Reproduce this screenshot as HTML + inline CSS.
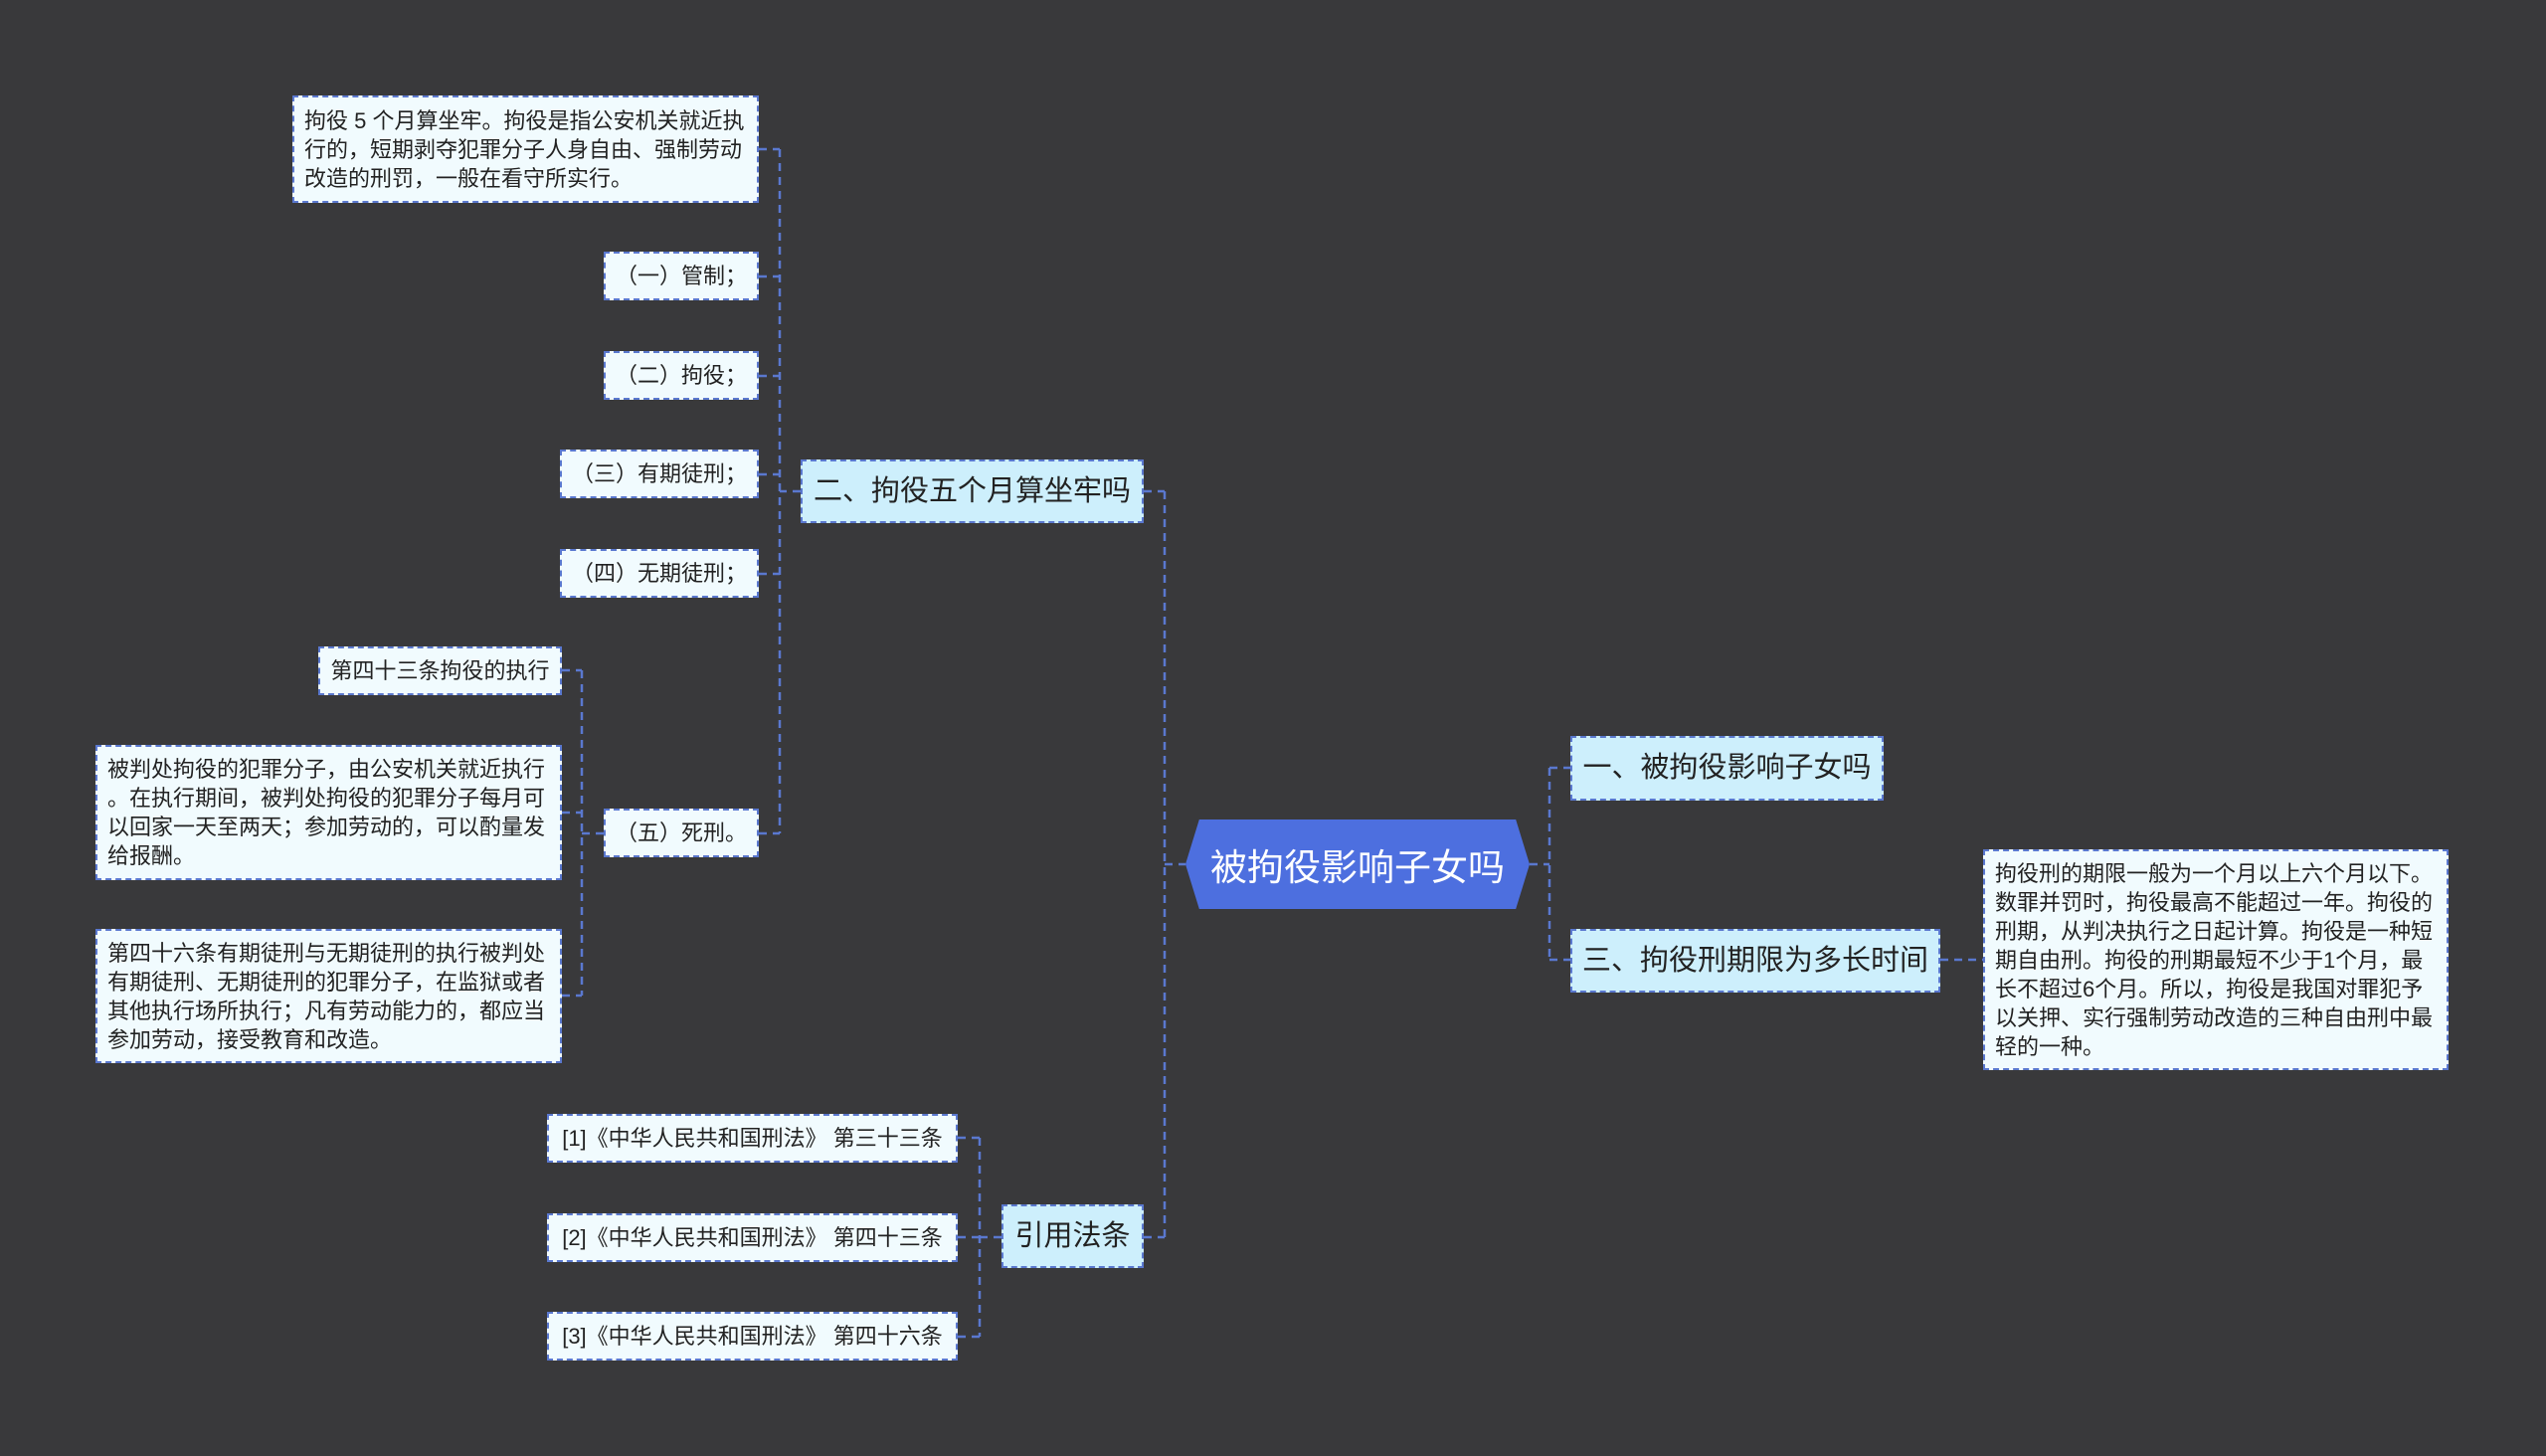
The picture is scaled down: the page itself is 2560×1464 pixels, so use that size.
<!DOCTYPE html>
<html><head><meta charset="utf-8"><style>
html,body{margin:0;padding:0}
body{width:2560px;height:1464px;background:#39393b;position:relative;overflow:hidden;font-family:"Liberation Sans","Noto Sans CJK SC",sans-serif}
.b{position:absolute;box-sizing:border-box;border:2px dashed #5a78cf;background:#f1fbfe;color:#222;font-size:22px;line-height:29px;display:flex;align-items:center;justify-content:center;white-space:nowrap}
.t{justify-content:flex-start;padding:0 10px;text-align:left;white-space:normal}
.l1{background:#cdeffc;font-size:29px;color:#222}
svg{position:absolute;left:0;top:0}
.c{position:absolute;left:1192px;top:824px;width:346px;height:90px;background:#4d6fdf;color:#fff;font-size:37px;display:flex;align-items:center;justify-content:center;clip-path:polygon(4% 0,96% 0,100% 50%,96% 100%,4% 100%,0 50%)}
</style></head><body>
<svg width="2560" height="1464"><g fill="none" stroke="#5a78cf" stroke-width="2.5" stroke-dasharray="8,6">
<path d="M805 494H784M784 150V838M763 150H784M763 278H784M763 378H784M763 477H784M763 577H784M763 838H784"/>
<path d="M1150 494H1171M1171 494V1244M1150 1244H1171M1171 869H1192"/>
<path d="M1538 869H1558M1558 772V965M1558 772H1579M1558 965H1579M1951 965H1994"/>
<path d="M607 838H585M585 674V1001M565 674H585M565 817H585M565 1001H585"/>
<path d="M1007 1244H985M985 1144V1344M963 1144H985M963 1244H985M963 1344H985"/>
</g></svg>
<div class="b t" style="left:294px;top:96px;width:469px;height:108px">拘役 5 个月算坐牢。拘役是指公安机关就近执<br>行的，短期剥夺犯罪分子人身自由、强制劳动<br>改造的刑罚，一般在看守所实行。</div>
<div class="b" style="left:607px;top:253px;width:156px;height:49px">（一）管制；</div>
<div class="b" style="left:607px;top:353px;width:156px;height:49px">（二）拘役；</div>
<div class="b" style="left:563px;top:452px;width:200px;height:49px">（三）有期徒刑；</div>
<div class="b" style="left:563px;top:552px;width:200px;height:49px">（四）无期徒刑；</div>
<div class="b l1" style="left:805px;top:462px;width:345px;height:64px">二、拘役五个月算坐牢吗</div>
<div class="b" style="left:320px;top:650px;width:245px;height:49px">第四十三条拘役的执行</div>
<div class="b t" style="left:96px;top:749px;width:469px;height:136px">被判处拘役的犯罪分子，由公安机关就近执行<br>。在执行期间，被判处拘役的犯罪分子每月可<br>以回家一天至两天；参加劳动的，可以酌量发<br>给报酬。</div>
<div class="b t" style="left:96px;top:934px;width:469px;height:135px">第四十六条有期徒刑与无期徒刑的执行被判处<br>有期徒刑、无期徒刑的犯罪分子，在监狱或者<br>其他执行场所执行；凡有劳动能力的，都应当<br>参加劳动，接受教育和改造。</div>
<div class="b" style="left:607px;top:813px;width:156px;height:49px">（五）死刑。</div>
<div class="c">被拘役影响子女吗</div>
<div class="b l1" style="left:1579px;top:740px;width:315px;height:65px">一、被拘役影响子女吗</div>
<div class="b l1" style="left:1579px;top:934px;width:372px;height:64px">三、拘役刑期限为多长时间</div>
<div class="b t" style="left:1994px;top:854px;width:468px;height:222px">拘役刑的期限一般为一个月以上六个月以下。<br>数罪并罚时，拘役最高不能超过一年。拘役的<br>刑期，从判决执行之日起计算。拘役是一种短<br>期自由刑。拘役的刑期最短不少于1个月，最<br>长不超过6个月。所以，拘役是我国对罪犯予<br>以关押、实行强制劳动改造的三种自由刑中最<br>轻的一种。</div>
<div class="b l1" style="left:1007px;top:1211px;width:143px;height:64px">引用法条</div>
<div class="b" style="left:550px;top:1120px;width:413px;height:49px">[1]《中华人民共和国刑法》 第三十三条</div>
<div class="b" style="left:550px;top:1220px;width:413px;height:49px">[2]《中华人民共和国刑法》 第四十三条</div>
<div class="b" style="left:550px;top:1319px;width:413px;height:49px">[3]《中华人民共和国刑法》 第四十六条</div>
</body></html>
